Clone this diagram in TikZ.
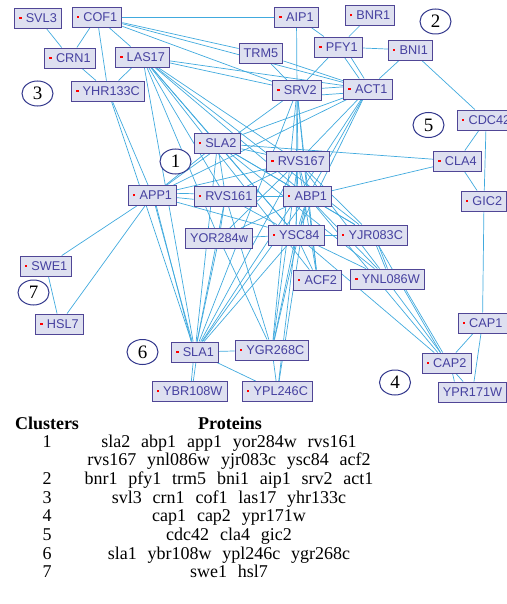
\documentclass[tikz,border=0pt]{standalone}
\usepackage{fontspec}
\setmainfont{Liberation Serif}
\newfontfamily\protsans{Liberation Sans}
\usetikzlibrary{shapes.geometric,backgrounds}
\definecolor{netblue}{RGB}{65,170,222}
\definecolor{protfill}{RGB}{222,224,240}
\definecolor{protline}{RGB}{80,70,150}
\definecolor{prottext}{RGB}{70,65,160}
\definecolor{ringline}{RGB}{50,55,140}
\newcommand{\rd}{\textcolor{red}{\rule[3.4pt]{2.4pt}{2.4pt}}\hspace{4.2pt}}
\newcommand{\gp}{\hspace{0.6em}}
\tikzset{
  prot/.style={draw=protline, fill=protfill, text=prottext, line width=0.9pt,
    minimum height=20pt, inner xsep=4.6pt, inner ysep=0pt,
    font=\protsans\fontsize{12.7}{14}\selectfont},
  ring/.style={draw=ringline, fill=white, ellipse, line width=1pt, minimum width=31pt,
    minimum height=25pt, inner sep=0pt, font=\fontsize{19}{19}\selectfont},
  link/.style={netblue, line width=0.7pt},
  tab/.style={inner sep=0pt, anchor=base, font=\fontsize{18}{18}\selectfont}
}

\begin{document}
\begin{tikzpicture}[x=1pt, y=-1pt]
\useasboundingbox (0,0) rectangle (506,604);
% cluster 3
\node[prot] (svl3) at (38,18) {\rd SVL3};
\node[prot] (cof1) at (97,17) {\rd COF1};
\node[prot] (crn1) at (70,58) {\rd CRN1};
\node[prot] (las17) at (142.5,57) {\rd LAS17};
\node[prot] (yhr133c) at (108,91) {\rd YHR133C};
% cluster 2
\node[prot] (aip1) at (296.5,17) {\rd AIP1};
\node[prot] (bnr1) at (370,15.5) {\rd BNR1};
\node[prot] (trm5) at (261,53.5) {TRM5};
\node[prot] (pfy1) at (338.5,47) {\rd PFY1};
\node[prot] (bni1) at (410.5,50) {\rd BNI1};
\node[prot] (srv2) at (297,90.5) {\rd SRV2};
\node[prot] (act1) at (368,89) {\rd ACT1};
% cluster 5
\node[prot, anchor=west] (cdc42) at (457,120) {\rd CDC42};
\node[prot] (cla4) at (457.5,161) {\rd CLA4};
\node[prot] (gic2) at (484,201) {\rd GIC2};
% cluster 1
\node[prot] (sla2) at (217.5,143.5) {\rd SLA2};
\node[prot] (rvs167) at (298,161.5) {\rd RVS167};
\node[prot] (app1) at (152.5,195.5) {\rd APP1};
\node[prot] (rvs161) at (225.5,196.5) {\rd RVS161};
\node[prot] (abp1) at (307.5,196.5) {\rd ABP1};
\node[prot] (yor284w) at (219,238.5) {YOR284w};
\node[prot] (ysc84) at (296,235) {\rd YSC84};
\node[prot] (yjr083c) at (372.5,235) {\rd YJR083C};
\node[prot] (acf2) at (317.5,280) {\rd ACF2};
\node[prot] (ynl086w) at (387.5,279) {\rd YNL086W};
% cluster 7
\node[prot] (swe1) at (46,266) {\rd SWE1};
\node[prot] (hsl7) at (59.5,324) {\rd HSL7};
% cluster 6
\node[prot] (sla1) at (195,352) {\rd SLA1};
\node[prot] (ygr268c) at (272,350) {\rd YGR268C};
\node[prot] (ybr108w) at (189.5,391.5) {\rd YBR108W};
\node[prot] (ypl246c) at (277.5,391.5) {\rd YPL246C};
% cluster 4
\node[prot] (cap1) at (482.5,323) {\rd CAP1};
\node[prot] (cap2) at (446.5,363) {\rd CAP2};
\node[prot] (ypr171w) at (472.5,392) {YPR171W};
% cluster numbers
\node[ring] (n1) at (175.5,161.5) {1};
\node[ring] (n2) at (435.5,21.5) {2};
\node[ring] (n3) at (37.5,93.5) {3};
\node[ring] (n4) at (395,382.5) {4};
\node[ring] (n5) at (428.5,125) {5};
\node[ring] (n6) at (142.5,352) {6};
\node[ring] (n7) at (33.5,292.5) {7};
% interactions
\begin{pgfonlayer}{background}
\foreach \a/\b in {svl3/crn1, cof1/crn1, crn1/yhr133c, las17/yhr133c, cof1/las17, cof1/yhr133c,
  cof1/aip1, cof1/trm5, cof1/srv2, cof1/act1, yhr133c/app1, yhr133c/sla1,
  las17/srv2, las17/act1, las17/sla2, las17/rvs167, las17/rvs161, las17/abp1, las17/ysc84,
  las17/sla1, las17/acf2, las17/yjr083c, las17/yor284w,
  aip1/pfy1, bnr1/pfy1, pfy1/bni1, pfy1/srv2, pfy1.-60/act1.130, pfy1.-40/act1.110,
  aip1/srv2, trm5/srv2, trm5/act1, srv2.5/act1.175, srv2.-10/act1.-170, bni1/act1, bni1/cdc42,
  srv2/rvs167, srv2/abp1, srv2/ysc84, srv2/sla1, srv2/app1, srv2/ygr268c, srv2/acf2,
  act1/sla2, act1/rvs167, act1/abp1, act1/ysc84, act1/app1, act1/sla1,
  cdc42/cla4, cdc42/gic2, cla4/gic2, gic2/cap1, sla2/cla4, abp1/cla4,
  app1.5/rvs161.175, app1.-5/rvs161.-175, app1/rvs167, app1/ysc84, app1/sla1, app1.-70/sla1.110,
  app1/swe1, app1/hsl7, app1/sla2,
  sla2/rvs167, sla2/rvs161, sla2/abp1, sla2/ysc84, sla2/ynl086w, sla2/yjr083c, sla2/sla1,
  rvs161/abp1, rvs161/rvs167, rvs161/ysc84, rvs161/sla1, rvs161/yor284w, rvs161/ygr268c,
  rvs167/abp1, rvs167/ysc84, rvs167/yjr083c, rvs167/ynl086w, rvs167/sla1, rvs167/acf2,
  rvs167/ygr268c, rvs167/yor284w,
  abp1/ysc84, abp1/yjr083c, abp1/ynl086w, abp1/sla1, abp1/acf2, abp1/ygr268c, abp1/cap2,
  abp1/yor284w, abp1/ypl246c,
  yor284w/ysc84, yor284w/sla1, yor284w/ygr268c,
  ysc84/yjr083c, ysc84/acf2, ysc84/ynl086w, ysc84/sla1, ysc84/ygr268c, ysc84/ypl246c, ysc84/cap2,
  yjr083c.-70/ynl086w.100, yjr083c.-60/ynl086w.90, yjr083c/cap2,
  ynl086w.-60/cap2.120, ynl086w.-30/cap2.110,
  swe1/hsl7, sla1/ygr268c, sla1.-100/ybr108w.80, sla1.-85/ybr108w.70, sla1/ypl246c, ygr268c/ypl246c,
  cap1/cap2, cap1/ypr171w, cap2/ypr171w, cap2.-60/ypr171w.150}
  \draw[link] (\a) -- (\b);
\end{pgfonlayer}
% table
\node[tab] (hclu) at (47,429) {\textbf{Clusters}};
\node[tab] (hpro) at (230,429) {\textbf{Proteins}};
\node[tab] (k1) at (47,447) {1};
\node[tab] (p1a) at (229,447) {sla2\gp abp1\gp app1\gp yor284w\gp rvs161};
\node[tab] (p1b) at (229,465.7) {rvs167\gp ynl086w\gp yjr083c\gp ysc84\gp acf2};
\node[tab] (k2) at (47,484.4) {2};
\node[tab] (p2) at (229,484.4) {bnr1\gp pfy1\gp trm5\gp bni1\gp aip1\gp srv2\gp act1};
\node[tab] (k3) at (47,503.1) {3};
\node[tab] (p3) at (229,503.1) {svl3\gp crn1\gp cof1\gp las17\gp yhr133c};
\node[tab] (k4) at (47,521.8) {4};
\node[tab] (p4) at (229,521.8) {cap1\gp cap2\gp ypr171w};
\node[tab] (k5) at (47,540.5) {5};
\node[tab] (p5) at (229,540.5) {cdc42\gp cla4\gp gic2};
\node[tab] (k6) at (47,559.2) {6};
\node[tab] (p6) at (229,559.2) {sla1\gp ybr108w\gp ypl246c\gp ygr268c};
\node[tab] (k7) at (47,577.9) {7};
\node[tab] (p7) at (229,577.9) {swe1\gp hsl7};
\end{tikzpicture}
\end{document}
